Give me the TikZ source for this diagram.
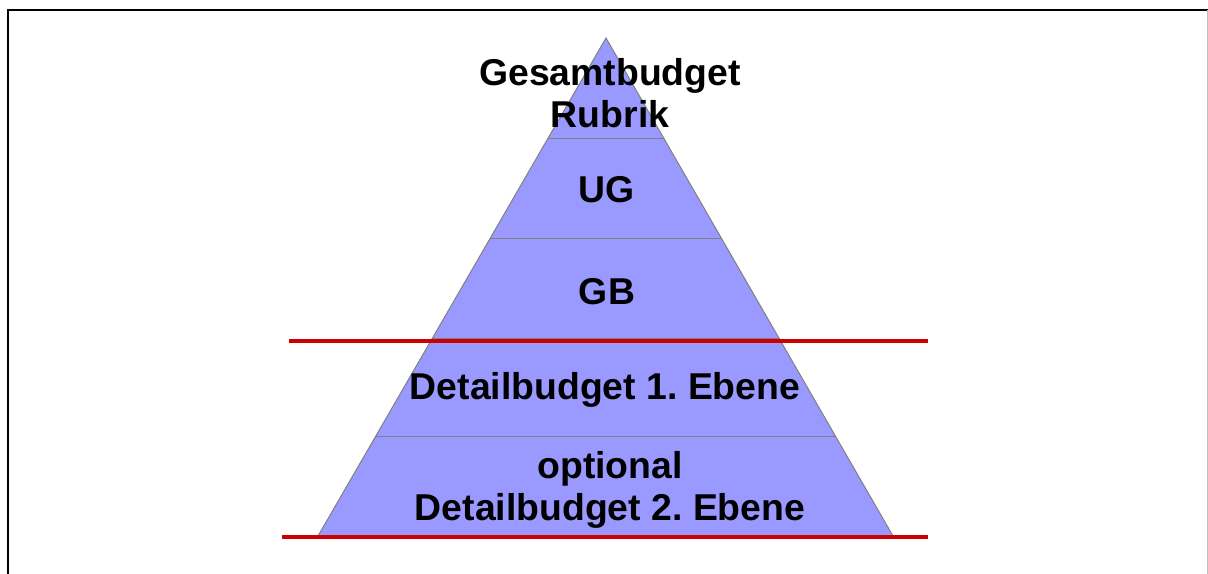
\documentclass[tikz,border=0pt]{standalone}
\usepackage{fontspec}
\setmainfont{Liberation Sans}
\usetikzlibrary{calc}
\frenchspacing
\definecolor{pyrfill}{HTML}{9999FF}
\definecolor{pyrline}{HTML}{808080}
\definecolor{cutred}{HTML}{CC0000}
\tikzset{
  level/.style={font=\fontsize{37.5}{42}\selectfont\bfseries, align=center, text=black, inner sep=0pt},
  divider/.style={draw=pyrline, line width=1bp},
  cutline/.style={draw=cutred, line width=4.5bp},
}
\begin{document}
\begin{tikzpicture}[x=1bp,y=-1bp]
  \useasboundingbox (0,0) rectangle (1208,574);
  \fill[white] (0,0) rectangle (1208,574);
  % frame
  \draw[black, line width=2.5bp] (8,574) -- (8,10) -- (1208,10);
  \draw[black!25, line width=1bp] (1207,10) -- (1207,574);
  % pyramid corners
  \coordinate (apex) at (606,38);
  \coordinate (bl) at (318,536);
  \coordinate (br) at (893,536);
  \fill[pyrfill] (apex) -- (bl) -- (br) -- cycle;
  \draw[pyrline, line width=1bp] (bl) -- (apex) -- (br);
  % level dividers
  \foreach \yy in {139,239,339,437} {
    \pgfmathsetmacro{\t}{(\yy-38)/498}
    \path[divider] ($(apex)!\t!(bl)$) -- ($(apex)!\t!(br)$);
  }
  % red cut lines
  \coordinate (c1a) at (289,341);
  \coordinate (c1b) at (928,341);
  \coordinate (c2a) at (282,537);
  \coordinate (c2b) at (928,537);
  \path[cutline] (c1a) -- (c1b);
  \path[cutline] (c2a) -- (c2b);
  % labels
  \node[level] (top) at (610,93) {Gesamtbudget\\Rubrik};
  \node[level] (ug) at (607,190) {UG};
  \node[level] (gb) at (607,292) {GB};
  \node[level] (d1) at (605,390) {Detailbudget 1. Ebene};
  \node[level] (d2) at (610,490) {optional\\Detailbudget 2. Ebene};
\end{tikzpicture}
\end{document}
